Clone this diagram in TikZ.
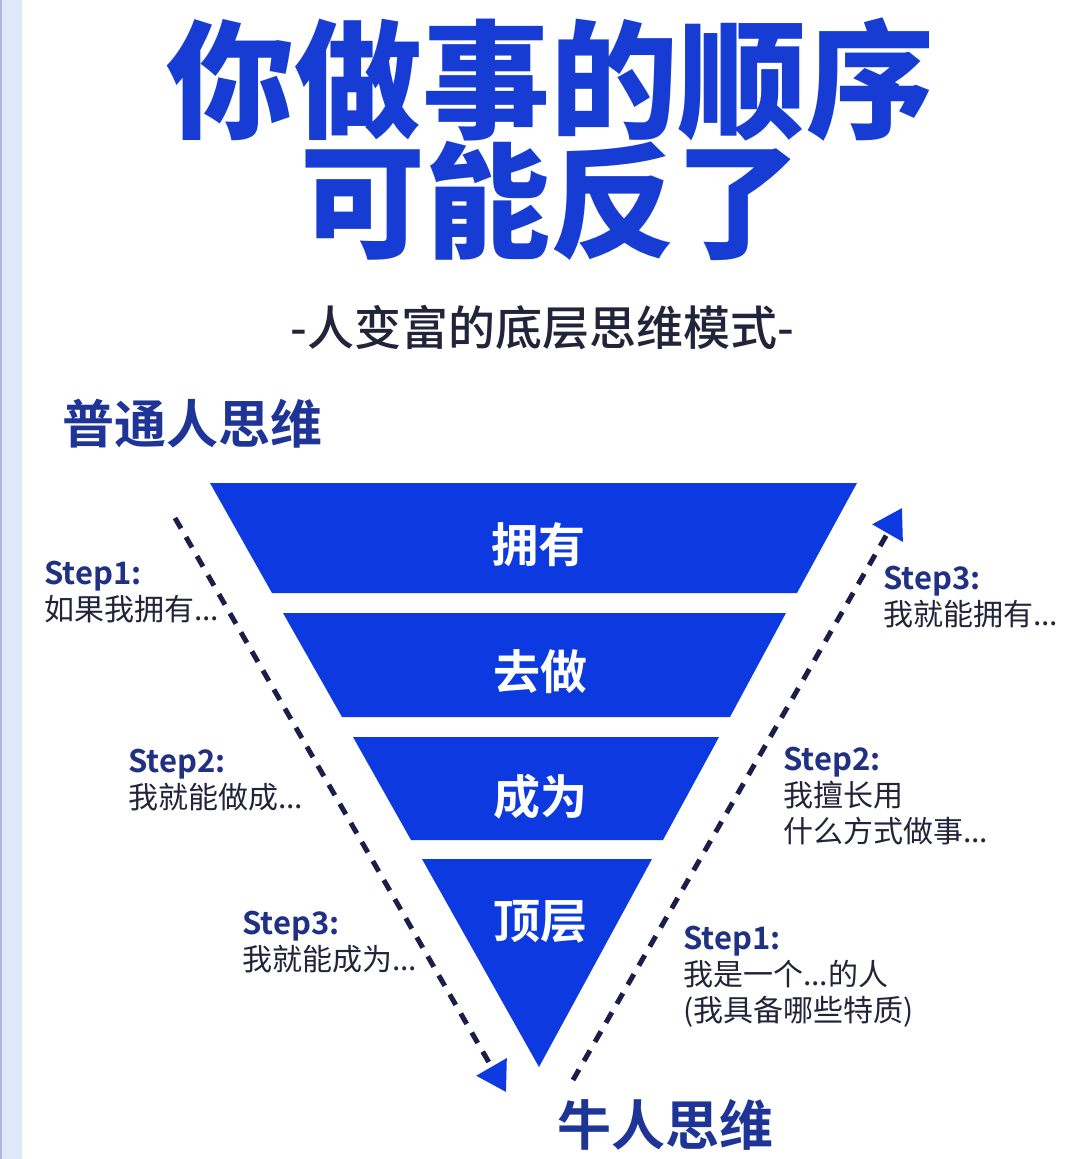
\documentclass[tikz,border=0pt]{standalone}
\usepackage{fontspec}
\setmainfont{Noto Sans CJK SC}[BoldFont={Noto Sans CJK SC Bold}]
\newfontfamily\heavyfont{Noto Sans CJK SC Black}
\newfontfamily\medfont{Noto Sans CJK SC Medium}
\usetikzlibrary{arrows.meta,positioning}
\definecolor{pyrblue}{RGB}{12,58,224}
\definecolor{titleblue}{RGB}{22,60,212}
\definecolor{headblue}{RGB}{30,52,150}
\definecolor{stepblue}{RGB}{32,48,130}
\definecolor{bodydark}{RGB}{34,36,58}
\definecolor{dashnavy}{RGB}{26,30,72}
\definecolor{edgebg}{RGB}{221,233,249}
\newcommand\stephead[1]{{\color{stepblue}\bfseries\fontsize{31}{36}\selectfont #1}}

\begin{document}
\begin{tikzpicture}[x=1pt,y=-1pt,
    title/.style={text=titleblue, inner sep=0,
                  font=\heavyfont\fontsize{128}{128}\selectfont},
    subt/.style={text=bodydark, inner sep=0,
                 font=\medfont\fontsize{47}{47}\selectfont},
    head/.style={text=headblue, inner sep=0,
                 font=\bfseries\fontsize{52}{52}\selectfont},
    band/.style={text=white, inner sep=0,
                 font=\bfseries\fontsize{47}{47}\selectfont},
    steptxt/.style={anchor=north west, inner sep=0, align=left,
                    text=bodydark, font=\fontsize{30}{36}\selectfont},
    steparr/.style={dashnavy, line width=5pt, dash pattern=on 12pt off 10pt,
                    -{Triangle[length=29pt,width=34pt,color=pyrblue,fill=pyrblue]}}
  ]
    \useasboundingbox (0,0) rectangle (1080,1159);
    \fill[white] (0,0) rectangle (1080,1159);
    \fill[edgebg] (0,0) rectangle (22,1159);
    \draw[line width=1.5pt, color=headblue!35] (1,0) -- (1,1159);

    \node[title] (t1) at (550,80) {你做事的顺序};
    \node[title, font=\heavyfont\fontsize{125}{125}\selectfont] (t2) at (550,201) {可能反了};
    \node[subt] (subtitle) at (542,328) {-人变富的底层思维模式-};
    \node[head, anchor=west] (common) at (62,424) {普通人思维};
    \node[head, font=\bfseries\fontsize{54}{54}\selectfont] (elite) at (665,1125) {牛人思维};

    \fill[pyrblue] (210,483) -- (857,483) -- (797,593) -- (272,593) -- cycle;
    \fill[pyrblue] (283,613) -- (786,613) -- (730,717) -- (342,717) -- cycle;
    \fill[pyrblue] (353,737) -- (719,737) -- (663,840) -- (411,840) -- cycle;
    \fill[pyrblue] (422,859) -- (652,859) -- (539,1067) -- cycle;
    \node[band] (own) at (538,545) {拥有};
    \node[band] (act) at (540,672) {去做};
    \node[band] (become) at (540,797) {成为};
    \node[band] (top) at (540,922) {顶层};

    \coordinate (ls) at (175,518);
    \coordinate (le) at (506,1092);
    \coordinate (rs) at (573,1080);
    \coordinate (re) at (902,508);
    \draw[steparr] (ls) -- (le);
    \draw[steparr] (rs) -- (re);

    \node[steptxt] (l1) at (44,561) {\stephead{Step1:}\\如果我拥有...};
    \node[steptxt] (l2) at (128,749) {\stephead{Step2:}\\我就能做成...};
    \node[steptxt] (l3) at (242,911) {\stephead{Step3:}\\我就能成为...};
    \node[steptxt] (r3) at (883,566) {\stephead{Step3:}\\我就能拥有...};
    \node[steptxt] (r2) at (783,747) {\stephead{Step2:}\\我擅长用\\什么方式做事...};
    \node[steptxt] (r1) at (683,926) {\stephead{Step1:}\\我是一个...的人\\(我具备哪些特质)};
  \end{tikzpicture}
\end{document}
